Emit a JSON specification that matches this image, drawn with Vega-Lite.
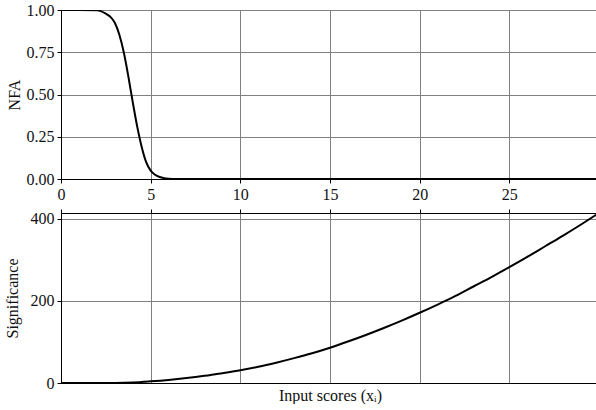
{
  "$schema": "https://vega.github.io/schema/vega-lite/v6.json",
  "autosize": {"type": "pad"},
  "padding": {"left": 3, "top": 1, "right": 0, "bottom": 0},
  "background": "white",
  "spacing": 5,
  "config": {
    "font": "Liberation Serif",
    "view": {"stroke": "black", "strokeWidth": 1},
    "axis": {
      "labelFont": "Liberation Serif",
      "titleFont": "Liberation Serif",
      "labelFontSize": 16,
      "titleFontSize": 16,
      "titleFontWeight": "normal",
      "labelColor": "#111",
      "titleColor": "#111",
      "gridColor": "#808080",
      "gridOpacity": 1,
      "gridWidth": 1,
      "tickColor": "black",
      "domainColor": "black",
      "tickSize": 4,
      "labelPadding": 3
    }
  },
  "datasets": {
    "nfa": [
      {"x": 0, "nfa": 1}, {"x": 1, "nfa": 1}, {"x": 2, "nfa": 0.998},
      {"x": 2.25, "nfa": 0.992}, {"x": 2.5, "nfa": 0.978}, {"x": 2.75, "nfa": 0.96},
      {"x": 3.0, "nfa": 0.925}, {"x": 3.25, "nfa": 0.855}, {"x": 3.5, "nfa": 0.75},
      {"x": 3.75, "nfa": 0.61}, {"x": 4.0, "nfa": 0.455}, {"x": 4.25, "nfa": 0.31},
      {"x": 4.5, "nfa": 0.19}, {"x": 4.75, "nfa": 0.1}, {"x": 5.0, "nfa": 0.05},
      {"x": 5.25, "nfa": 0.025}, {"x": 5.5, "nfa": 0.012}, {"x": 5.75, "nfa": 0.005},
      {"x": 6, "nfa": 0.002}, {"x": 6.5, "nfa": 0.0003}, {"x": 7, "nfa": 0},
      {"x": 8, "nfa": 0}, {"x": 10, "nfa": 0}, {"x": 15, "nfa": 0},
      {"x": 20, "nfa": 0}, {"x": 25, "nfa": 0}, {"x": 30, "nfa": 0}
    ],
    "sig": [
      {"x": 0, "sig": 0}, {"x": 1, "sig": 0}, {"x": 2, "sig": 0.02}, {"x": 3, "sig": 0.2},
      {"x": 4, "sig": 1.2}, {"x": 5, "sig": 4}, {"x": 6, "sig": 7.5}, {"x": 7, "sig": 12},
      {"x": 8, "sig": 17.5}, {"x": 9, "sig": 24}, {"x": 10, "sig": 31}, {"x": 11, "sig": 39.5},
      {"x": 12, "sig": 49.5}, {"x": 13, "sig": 60.5}, {"x": 14, "sig": 72.5}, {"x": 15, "sig": 86},
      {"x": 16, "sig": 101}, {"x": 17, "sig": 117}, {"x": 18, "sig": 134}, {"x": 19, "sig": 152},
      {"x": 20, "sig": 171}, {"x": 21, "sig": 191}, {"x": 22, "sig": 212}, {"x": 23, "sig": 235},
      {"x": 24, "sig": 258}, {"x": 25, "sig": 282}, {"x": 26, "sig": 307}, {"x": 27, "sig": 333},
      {"x": 28, "sig": 359}, {"x": 29, "sig": 386}, {"x": 30, "sig": 414}
    ]
  },
  "vconcat": [
    {
      "width": 538,
      "height": 169,
      "data": {"name": "nfa"},
      "mark": {"type": "line", "color": "black", "strokeWidth": 2, "interpolate": "monotone", "clip": true},
      "encoding": {
        "x": {
          "field": "x", "type": "quantitative",
          "scale": {"domain": [0, 30], "nice": false},
          "axis": {"values": [0, 5, 10, 15, 20, 25], "title": null, "grid": true, "labelFlush": false, "domain": true}
        },
        "y": {
          "field": "nfa", "type": "quantitative",
          "scale": {"domain": [0, 1], "nice": false},
          "axis": {"values": [0, 0.25, 0.5, 0.75, 1], "format": ".2f", "title": "NFA", "grid": true}
        }
      }
    },
    {
      "width": 538,
      "height": 170,
      "data": {"name": "sig"},
      "resolve": {"axis": {"x": "independent"}},
      "layer": [
        {
          "mark": {"type": "line", "color": "black", "strokeWidth": 2, "interpolate": "monotone", "clip": true},
          "encoding": {
            "x": {
              "field": "x", "type": "quantitative",
              "scale": {"domain": [0, 30], "nice": false},
              "axis": {"orient": "top", "values": [0, 5, 10, 15, 20, 25], "labels": false, "ticks": true, "domain": false, "grid": true, "title": null}
            },
            "y": {
              "field": "sig", "type": "quantitative",
              "scale": {"domain": [0, 414], "nice": false},
              "axis": {"values": [0, 200, 400], "title": "Significance", "titlePadding": 10, "grid": true}
            }
          }
        },
        {
          "mark": {"type": "line", "color": "black", "strokeWidth": 2, "strokeOpacity": 0, "clip": true},
          "encoding": {
            "x": {
              "field": "x", "type": "quantitative",
              "scale": {"domain": [0, 30], "nice": false},
              "axis": {"orient": "bottom", "labels": false, "ticks": false, "domain": true, "grid": false, "title": "Input scores (xᵢ)", "titlePadding": 4}
            },
            "y": {"field": "sig", "type": "quantitative"}
          }
        }
      ]
    }
  ]
}
